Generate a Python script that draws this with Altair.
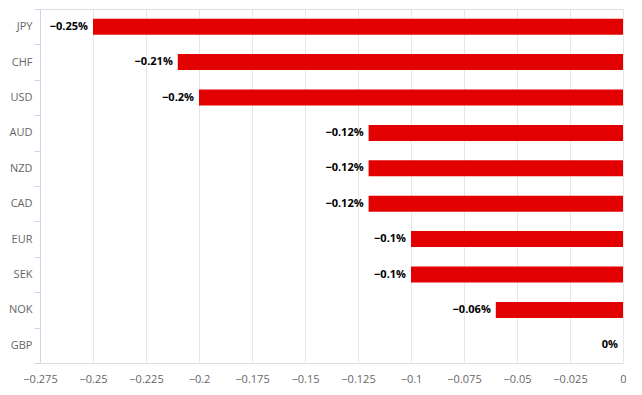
import altair as alt
import pandas as pd

currencies = ["JPY", "CHF", "USD", "AUD", "NZD", "CAD", "EUR", "SEK", "NOK", "GBP"]
changes = [-0.25, -0.21, -0.2, -0.12, -0.12, -0.12, -0.1, -0.1, -0.06, 0.0]
x_ticks = [-0.275, -0.25, -0.225, -0.2, -0.175, -0.15, -0.125, -0.1, -0.075, -0.05, -0.025, 0.0]

labels = [(f"{v:g}%").replace("-", "\u2212") for v in changes]
df = pd.DataFrame({"currency": currencies, "change": changes, "label": labels})

FONT = "Open Sans"

y_enc = alt.Y(
    "currency:N",
    sort=currencies,
    title=None,
    scale=alt.Scale(paddingInner=0, paddingOuter=0),
    axis=alt.Axis(
        tickBand="extent",
        tickSize=6,
        tickColor="#ccd6eb",
        domainColor="#ccd6eb",
        labelPadding=2,
        labelColor="#666666",
        labelFontSize=11,
        labelFont=FONT,
        grid=False,
    ),
)

x_enc = alt.X(
    "change:Q",
    title=None,
    scale=alt.Scale(domain=[-0.275, 0], nice=False, zero=False),
    axis=alt.Axis(
        values=x_ticks,
        format=".3~f",
        domain=False,
        ticks=False,
        grid=True,
        gridColor="#e6e6e6",
        labelPadding=10,
        labelColor="#666666",
        labelFontSize=11,
        labelFont=FONT,
        labelFlush=False,
    ),
)

bars = alt.Chart(df).mark_bar(color="#e30000", size=16).encode(
    y=y_enc,
    x=x_enc,
    x2=alt.datum(0),
)

text = alt.Chart(df).mark_text(
    align="right", baseline="middle", dx=-5, font=FONT, fontSize=11,
    fontWeight="bold", color="#000000"
).encode(
    y=alt.Y("currency:N", sort=currencies),
    x=alt.X("change:Q"),
    text="label:N",
)

chart = (bars + text).properties(
    width=583,
    height=354,
    autosize=alt.AutoSizeParams(type="none"),
    padding={"left": 32, "top": 1, "right": 11, "bottom": 24},
).configure_view(stroke=None).configure(background="white")

chart.save("out.html", embed_options={"renderer": "svg", "actions": False})
